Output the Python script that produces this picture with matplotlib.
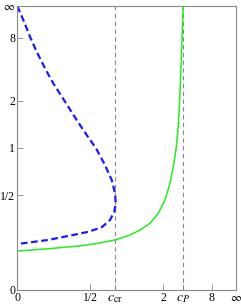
import numpy as np
import matplotlib
matplotlib.use("Agg")
import matplotlib.pyplot as plt

plt.rcParams['font.family'] = ['Liberation Serif', 'DejaVu Serif']
plt.rcParams['mathtext.fontset'] = 'stix'

INF = 1e9

# blue dashed branch, from (0, inf) round the nose and back to x=0
blue_x = [0.0, 0.0282, 0.0617, 0.0973, 0.145, 0.197, 0.279, 0.373, 0.465,
          0.5625, 0.669, 0.760, 0.808, 0.818, 0.797, 0.736, 0.628, 0.481,
          0.387, 0.165, 0.0]
blue_y = [INF, 19.3, 8.24, 5.21, 3.56, 2.67, 1.97, 1.49, 1.20,
          0.996, 0.786, 0.632, 0.516, 0.439, 0.381, 0.327, 0.283, 0.258,
          0.246, 0.214, 0.193]

# green solid branch, rising to inf at c_P
green_x = [0.0, 0.165, 0.387, 0.588, 0.808, 1.063, 1.278, 1.544, 1.815,
           2.08, 2.31, 2.49, 2.64, 2.75, 2.84, 2.90, 2.98, 3.05, 3.10,
           3.14159]
green_y = [0.159, 0.170, 0.183, 0.197, 0.214, 0.240, 0.268, 0.307, 0.370,
           0.464, 0.602, 0.767, 0.972, 1.23, 1.65, 2.25, 3.68, 7.35, 19.4,
           INF]

c_cr = 0.812
c_P = np.pi

x_ticks = [0, 0.5, c_cr, 2, c_P, 8, INF]
x_labels = ['0', '1/2', r'$c_{\rm cr}$', '2', r'$c_P$', '8', r'$\infty$']
y_ticks = [0, 0.5, 1, 2, 8, INF]
y_labels = ['0', '1/2', '1', '2', '8', r'$\infty$']


def fwd(v):
    v = np.asarray(v, dtype=float)
    with np.errstate(all='ignore'):
        return v / (1 + v)


def inv(t):
    t = np.asarray(t, dtype=float)
    with np.errstate(all='ignore'):
        return t / (1 - t)


fig = plt.figure(figsize=(2.41, 3.07), dpi=100)
ax = fig.add_axes([17.3 / 241, 17 / 307, 218.7 / 241, 284 / 307])
ax.set_xscale('function', functions=(fwd, inv))
ax.set_yscale('function', functions=(fwd, inv))
ax.set_xlim(0, INF)
ax.set_ylim(0, INF)

ax.axvline(c_cr, color='#888888', ls=(0, (4, 3)), lw=0.8)
ax.axvline(c_P, color='#888888', ls=(0, (4, 3)), lw=0.8)

ax.plot(green_x, green_y, color='#22ee22', lw=1.1, solid_joinstyle='round')
ax.plot(blue_x, blue_y, color='#1a1aff', lw=1.6, ls=(0, (3, 1.6)))

ax.set_xticks(x_ticks)
ax.set_xticklabels(x_labels)
ax.set_yticks(y_ticks)
ax.set_yticklabels(y_labels)
ax.minorticks_off()
ax.tick_params(direction='in', length=4, width=0.6, color='#888888',
               labelsize=8.5, pad=1.5)
# the c labels are set a bit larger, as in the original
for lab in ax.get_xticklabels():
    if lab.get_text().startswith('$c'):
        lab.set_fontsize(10)

for s in ax.spines.values():
    s.set_color('#888888')
    s.set_linewidth(0.8)

fig.savefig('out.png', dpi=100)
